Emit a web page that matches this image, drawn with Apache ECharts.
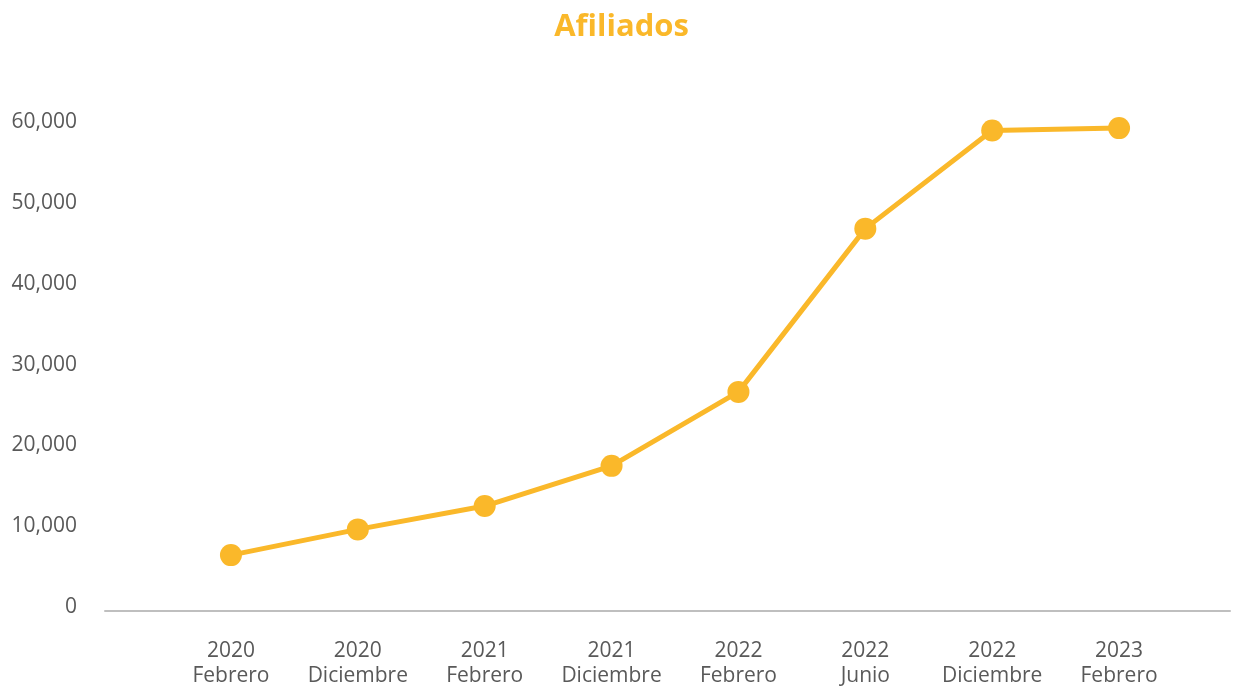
<!DOCTYPE html>
<html>
<head>
    <meta charset="utf-8">
    <title>Afiliados</title>
    <script type="text/javascript" src="https://cdn.jsdelivr.net/npm/echarts@6/dist/echarts.min.js"></script>
</head>
<body style="margin:0;">
<div id="chart" style="width: 1243px;height:689px;"></div>

<script type="text/javascript">
    // datos
    var periodos = ['2020\nFebrero', '2020\nDiciembre', '2021\nFebrero', '2021\nDiciembre',
        '2022\nFebrero', '2022\nJunio', '2022\nDiciembre', '2023\nFebrero'];
    var afiliados = [6700, 9900, 12800, 17800, 27000, 47300, 59500, 59800];
    var yTicks = [0, 10000, 20000, 30000, 40000, 50000, 60000];

    var amarillo = '#FAB82A';
    var gris = '#595959';
    var fuente = '"Open Sans", sans-serif';

    var chart = echarts.init(document.getElementById('chart'));

    var option = {
        title: {
            text: 'Afiliados',
            left: 'center',
            top: 7,
            textStyle: { color: amarillo, fontSize: 31, fontWeight: 'bold', fontFamily: fuente }
        },
        grid: [
            // grid 0: linea del eje x
            { left: 105, right: 13, top: 126.5, bottom: 78 },
            // grid 1: datos
            { left: 167.5, right: 60.5, top: 126.5, bottom: 78 },
            // grid 2: etiquetas del eje y (algo mas arriba, como en el original)
            { left: 105, right: 13, top: 122.5, bottom: 82 }
        ],
        xAxis: [
            {
                gridIndex: 0,
                type: 'category',
                data: [''],
                axisLine: { lineStyle: { color: '#BFBFBF', width: 2 } },
                axisTick: { show: false },
                axisLabel: { show: false }
            },
            {
                gridIndex: 1,
                type: 'category',
                data: periodos,
                boundaryGap: true,
                axisLine: { show: false },
                axisTick: { show: false },
                axisLabel: {
                    color: gris, fontSize: 21, lineHeight: 25, margin: 30, fontFamily: fuente,
                    interval: 0
                }
            },
            { gridIndex: 2, type: 'category', data: [''], show: false }
        ],
        yAxis: [
            { gridIndex: 0, type: 'value', min: yTicks[0], max: yTicks[yTicks.length - 1], show: false },
            { gridIndex: 1, type: 'value', min: yTicks[0], max: yTicks[yTicks.length - 1], show: false },
            {
                gridIndex: 2,
                type: 'value',
                min: yTicks[0],
                max: yTicks[yTicks.length - 1],
                interval: 10000,
                splitLine: { show: false },
                axisLine: { show: false },
                axisTick: { show: false },
                axisLabel: {
                    color: gris, fontSize: 21, fontFamily: fuente, margin: 28,
                    formatter: function (v) { return v.toLocaleString('en-US'); }
                }
            }
        ],
        series: [
            {
                name: 'Afiliados',
                type: 'line',
                xAxisIndex: 1,
                yAxisIndex: 1,
                data: afiliados,
                symbol: 'circle',
                symbolSize: 22,
                clip: false,
                lineStyle: { color: amarillo, width: 5 },
                itemStyle: { color: amarillo },
                animation: false
            }
        ]
    };

    chart.setOption(option);
</script>
</body>
</html>
